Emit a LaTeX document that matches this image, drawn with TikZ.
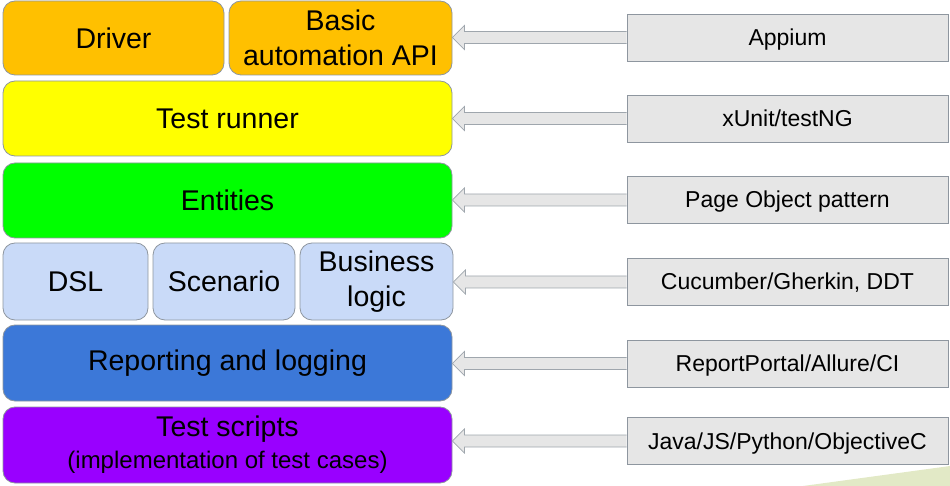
\documentclass[tikz,border=0pt]{standalone}
\usepackage{fontspec}
\setmainfont{Liberation Sans}
\usepackage{xcolor}
\usetikzlibrary{calc}
\usetikzlibrary{positioning}
\definecolor{drvorange}{HTML}{FFC000}
\definecolor{runyellow}{HTML}{FFFF00}
\definecolor{entgreen}{HTML}{00FF00}
\definecolor{dslblue}{HTML}{C9DAF8}
\definecolor{repblue}{HTML}{3C78D8}
\definecolor{scrpurple}{HTML}{9900FF}
\definecolor{toolgray}{HTML}{E6E6E6}
\definecolor{edgegray}{HTML}{8E969F}
\definecolor{slidegreen}{HTML}{E2E9C6}
\tikzstyle{layer} = [rectangle, rounded corners=12pt, draw=edgegray, line width=0.8pt, align=center, inner sep=0pt, minimum height=75pt, font=\fontsize{28.5}{35}\selectfont]
\tikzstyle{tool} = [rectangle, draw=edgegray, line width=0.8pt, fill=toolgray, minimum width=321pt, minimum height=47pt, inner sep=0pt, text height=16.5pt, text depth=0.5pt, font=\fontsize{23}{27}\selectfont]
\tikzstyle{feedarrow} = [draw=edgegray!85, line width=0.8pt, fill=toolgray, line join=miter]
\newcommand{\feeds}[2]{\draw[feedarrow] let \p1=(#1.west), \p2=(#2.east) in
  (\x1,\y1+6pt) -- (\x2+12pt,\y1+6pt) -- (\x2+12pt,\y1+12pt) -- (\x2,\y1)
  -- (\x2+12pt,\y1-12pt) -- (\x2+12pt,\y1-6pt) -- (\x1,\y1-6pt);}

\begin{document}
\begin{tikzpicture}[x=1pt, y=-1pt]
    \useasboundingbox (0,0) rectangle (950,486);
    % slide corner
    \fill[slidegreen] (803,486) -- (950,466) -- (950,486) -- cycle;

    % stack of layers
    \node(driver)[layer, fill=drvorange, minimum width=221pt, minimum height=74pt] at (113.5,38) {Driver};
    \node(api)[layer, fill=drvorange, minimum width=223pt, minimum height=74pt] at (340.5,38) {Basic\\automation API};
    \node(runner)[layer, fill=runyellow, minimum width=449pt] at (227.5,118.5) {Test runner};
    \node(entities)[layer, fill=entgreen, minimum width=449pt] at (227.5,200.5) {Entities};
    \node(dsl)[layer, fill=dslblue, minimum width=145pt, minimum height=77pt] at (75.5,281.5) {DSL};
    \node(scenario)[layer, fill=dslblue, minimum width=142pt, minimum height=77pt] at (224,281.5) {Scenario};
    \node(logic)[layer, fill=dslblue, minimum width=153pt, minimum height=77pt] at (376.5,281.5) {Business\\logic};
    \node(reporting)[layer, fill=repblue, minimum width=449pt, minimum height=76pt] at (227.5,363) {Reporting and logging};
    \node(scripts)[layer, fill=scrpurple, minimum width=449pt, minimum height=76pt] at (227.5,445) {Test scripts\\[-3pt]{\fontsize{24}{28}\selectfont (implementation of test cases)}};

    % tools
    \node(appium)[tool] at (787.5,37.5) {Appium};
    \node(xunit)[tool] at (787.5,118.5) {xUnit/testNG};
    \node(pageobj)[tool] at (787.5,200) {Page Object pattern};
    \node(cucumber)[tool] at (787.5,282) {Cucumber/Gherkin, DDT};
    \node(reportportal)[tool] at (787.5,363.5) {ReportPortal/Allure/CI};
    \node(java)[tool] at (787.5,441) {Java/JS/Python/ObjectiveC};

    \feeds{appium}{api}
    \feeds{xunit}{runner}
    \feeds{pageobj}{entities}
    \feeds{cucumber}{logic}
    \feeds{reportportal}{reporting}
    \feeds{java}{scripts}
\end{tikzpicture}
\end{document}
